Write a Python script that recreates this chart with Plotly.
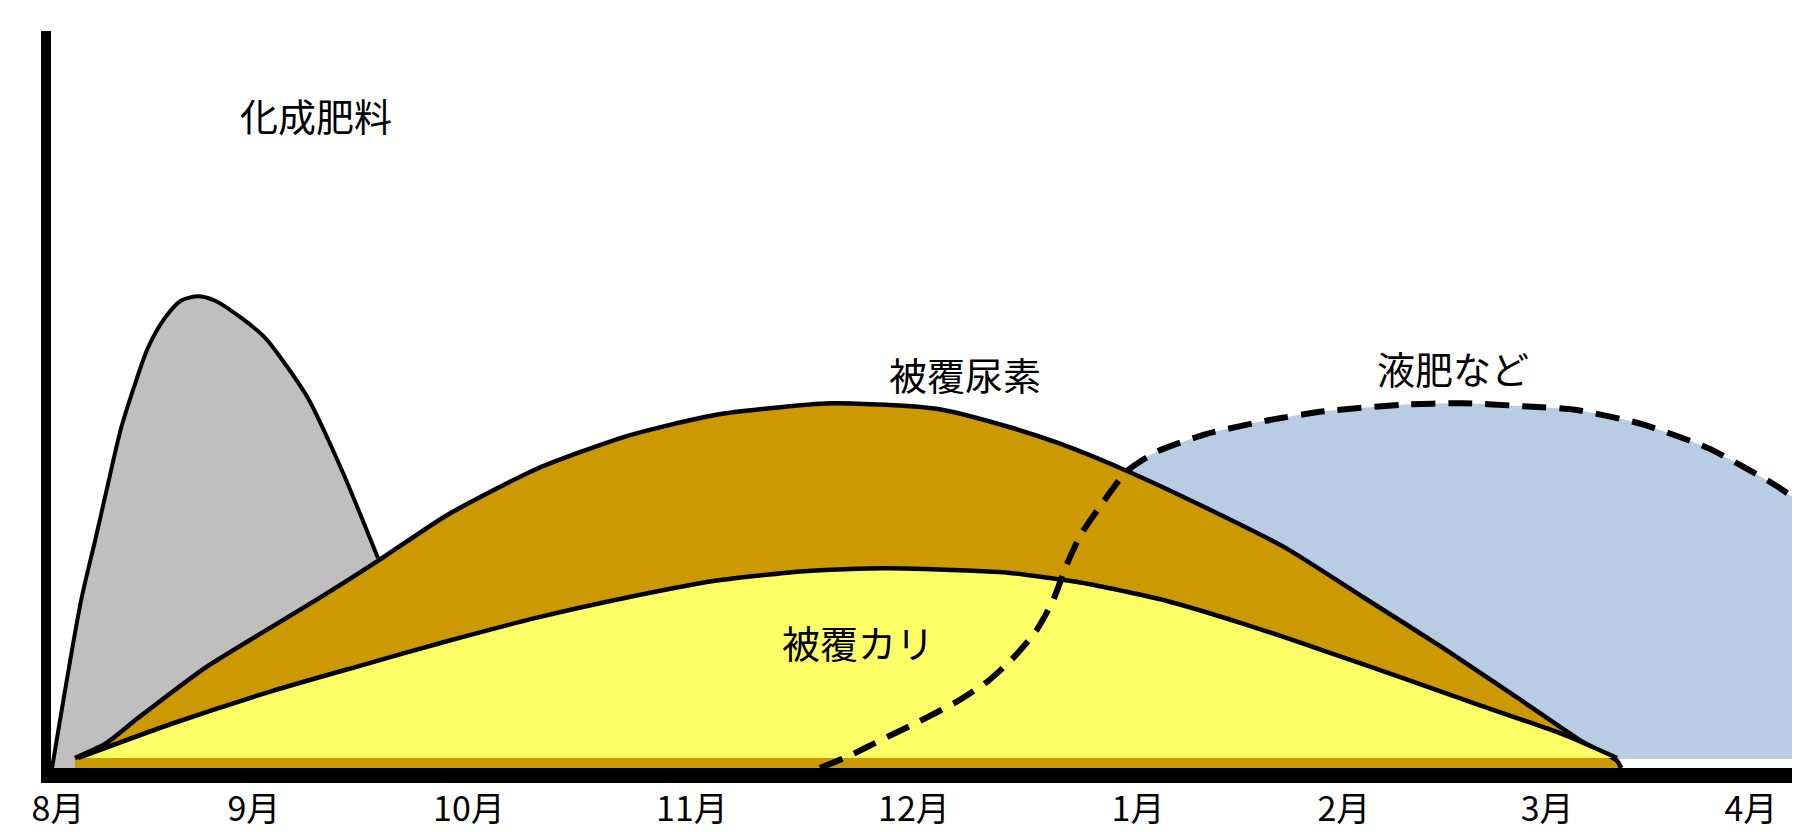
import plotly.graph_objects as go

# ---------------- data (x in months from Aug, y in relative amount 0-100) ----------------
month_labels = ["8月", "9月", "10月", "11月", "12月", "1月", "2月", "3月", "4月"]
month_pos = [0.0, 0.926, 1.942, 2.996, 4.045, 5.104, 6.077, 7.037, 8.0]

# 化成肥料 (quick-release fertilizer)
kasei_x = [-0.028, 0.109, 0.175, 0.236, 0.298, 0.364, 0.425, 0.506, 0.581, 0.662,
           0.742, 0.865, 0.978, 1.054, 1.181, 1.337, 1.512]
kasei_y = [0.0, 22.7, 30.8, 38.5, 46.1, 52.1, 57.0, 61.1, 63.4, 64.0,
           63.4, 61.1, 58.4, 55.6, 50.2, 40.7, 28.5]

# 被覆尿素 (coated urea)
urea_x = [0.080, 0.222, 0.378, 0.695, 1.215, 1.512, 1.838, 2.264, 2.684, 3.105, 3.653,
          4.159, 4.490, 4.726, 5.052, 5.425, 5.799, 6.172, 6.545, 6.919, 7.198, 7.368, 7.387]
urea_y = [1.36, 3.26, 6.78, 13.6, 22.7, 28.1, 34.3, 40.6, 45.0, 47.9, 49.5,
          48.7, 46.3, 44.1, 40.3, 35.3, 29.9, 23.1, 16.3, 9.1, 3.66, 0.95, 0.0]

# 被覆カリ (coated potassium)
kali_x = [0.095, 0.534, 1.007, 1.418, 1.838, 2.264, 2.684, 3.105, 3.526, 3.908, 4.371,
          4.490, 4.863, 5.236, 5.610, 5.983, 6.356, 6.730, 7.108, 7.368]
kali_y = [1.36, 5.97, 10.4, 13.8, 17.2, 20.4, 23.1, 25.4, 26.7, 27.1, 26.7,
          26.5, 25.0, 22.7, 19.5, 15.9, 12.2, 8.41, 4.61, 1.36]

# 液肥など (liquid fertilizer etc.)
liquid_x = [3.601, 3.738, 3.899, 4.064, 4.253, 4.395, 4.513, 4.622, 4.702, 4.764, 4.830,
            4.920, 5.052, 5.198, 5.425, 5.704, 5.983, 6.356, 6.640, 6.919, 7.169, 7.481,
            7.798, 8.114, 8.270]
liquid_y = [0.0, 1.63, 3.93, 6.24, 9.09, 11.8, 14.9, 18.6, 22.7, 27.4, 31.5,
            35.3, 40.3, 43.0, 45.3, 47.1, 48.4, 49.3, 49.5, 49.1, 48.6, 46.7,
            43.4, 38.4, 35.3]
liquid_floor = 1.22

label_texts = ["化成肥料", "被覆尿素", "被覆カリ", "液肥など"]
label_x = [1.219, 4.286, 3.781, 6.593]
label_y = [88.7, 53.5, 17.1, 54.4]

# ---------------- figure ----------------
GRAY = "#BFBFBF"
BROWN = "#CC9900"
YELLOW = "#FFFF66"
BLUE = "#B8CCE4"
SM = 0.6

fig = go.Figure()

fig.add_trace(go.Scatter(x=kasei_x, y=kasei_y, mode="lines", fill="tozeroy",
                         fillcolor=GRAY,
                         line=dict(color="black", width=4, shape="spline", smoothing=0.8),
                         hoverinfo="skip"))

fig.add_trace(go.Scatter(x=[liquid_x[0], liquid_x[-1]], y=[liquid_floor, liquid_floor],
                         mode="lines", line=dict(width=0, color="rgba(0,0,0,0)"),
                         hoverinfo="skip"))
fig.add_trace(go.Scatter(x=liquid_x, y=liquid_y, mode="lines", fill="tonexty",
                         fillcolor=BLUE,
                         line=dict(width=0, color="rgba(0,0,0,0)", shape="spline", smoothing=SM),
                         hoverinfo="skip"))

fig.add_trace(go.Scatter(x=urea_x, y=urea_y, mode="lines", fill="tozeroy",
                         fillcolor=BROWN,
                         line=dict(color="black", width=4.5, shape="spline", smoothing=SM),
                         hoverinfo="skip"))

fig.add_trace(go.Scatter(x=kali_x, y=kali_y, mode="lines", fill="toself",
                         fillcolor=YELLOW,
                         line=dict(color="black", width=4.5, shape="spline", smoothing=SM),
                         hoverinfo="skip"))

fig.add_trace(go.Scatter(x=liquid_x, y=liquid_y, mode="lines",
                         line=dict(color="black", width=6, dash="24px,13px",
                                   shape="spline", smoothing=SM),
                         hoverinfo="skip"))

for t, x, y in zip(label_texts, label_x, label_y):
    fig.add_annotation(x=x, y=y, text=t, showarrow=False,
                       font=dict(family="Noto Sans CJK JP", size=38, color="black"))

fig.update_layout(
    width=1800, height=832,
    margin=dict(l=43, r=0, t=23, b=72),
    paper_bgcolor="white", plot_bgcolor="white",
    showlegend=False,
    hovermode=False,
)
fig.update_xaxes(range=[-0.033, 8.27], showgrid=False, zeroline=False, automargin=False,
                 showline=True, linecolor="black", linewidth=15,
                 tickmode="array", tickvals=month_pos, ticktext=month_labels,
                 ticks="", ticklabelstandoff=-3,
                 tickfont=dict(family="Liberation Sans Narrow, Noto Sans CJK JP", size=34, color="black"))
fig.update_yaxes(range=[0, 100], showgrid=False, zeroline=False, automargin=False,
                 showline=True, linecolor="black", linewidth=10,
                 showticklabels=False, ticks="")

fig.write_html("out.html")
